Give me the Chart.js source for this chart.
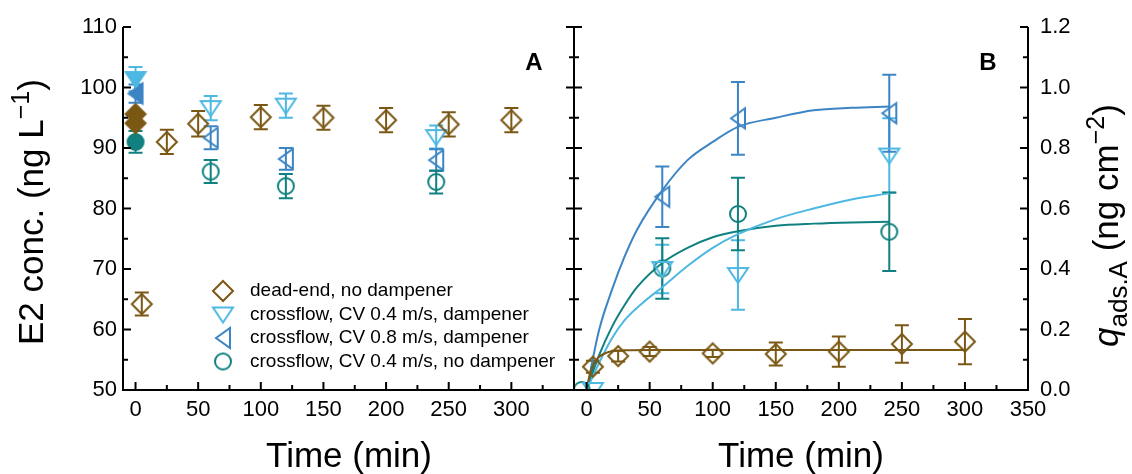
<!DOCTYPE html>
<html>
<head>
<meta charset="utf-8">
<script src="https://cdn.jsdelivr.net/npm/chart.js@4.4.1/dist/chart.umd.min.js"></script>
<style>
  body { margin: 0; background: #fff; }
  #wrap { position: relative; width: 1132px; height: 474px; overflow: hidden; }
  #chartA { position: absolute; left: 0; top: 0; }
  #chartB { position: absolute; left: 560px; top: 0; }
</style>
</head>
<body>
<div id="wrap">
  <canvas id="chartA" width="590" height="474"></canvas>
  <canvas id="chartB" width="572" height="474"></canvas>
</div>
<script>
// ---- Panel A: E2 concentration (ng/L) vs time (min) ----
const deadTimeA = [5, 25, 50, 100, 150, 200, 250, 300];
const deadConcA = [64.2, 91.0, 94.0, 95.1, 95.0, 94.6, 93.9, 94.6];
const deadErrA = [1.9, 2.0, 2.1, 2.0, 2.0, 2.0, 2.0, 2.0];

const cv04dTimeA = [60, 120, 240];
const cv04dConcA = [96.6, 97.0, 91.8];
const cv04dErrA = [2.0, 2.0, 1.9];

const cv08dTimeA = [60, 120, 240];
const cv08dConcA = [91.7, 88.2, 88.0];
const cv08dErrA = [1.9, 1.8, 1.8];

const cv04nTimeA = [60, 120, 240];
const cv04nConcA = [86.1, 83.7, 84.4];
const cv04nErrA = [1.9, 2.0, 1.9];

// feed samples at t = 0 (filled symbols)
const feedDeadA = [95.6, 94.1];
const feedCv04dA = [101.4];
const feedCv08dA = [99.0];
const feedCv04nA = [91.0];
const feedErrA = [2.0, 1.5, 1.8];

// ---- Panel B: adsorbed amount q_ads,A (ng/cm2) vs time (min) ----
const deadTimeB = [5, 25, 50, 100, 150, 200, 250, 300];
const deadQB = [0.077, 0.112, 0.127, 0.121, 0.119, 0.127, 0.152, 0.160];
const deadErrB = [0.02, 0.018, 0.015, 0.012, 0.038, 0.05, 0.062, 0.075];

const cv04dTimeB = [5, 60, 120, 240];
const cv04dQB = [0, 0.40, 0.38, 0.775];
const cv04dErrB = [0, 0.08, 0.115, 0.123];

const cv08dTimeB = [60, 120, 240];
const cv08dQB = [0.639, 0.898, 0.915];
const cv08dErrB = [0.10, 0.12, 0.127];

const cv04nTimeB = [-4, 60, 120, 240];
const cv04nQB = [0, 0.402, 0.582, 0.523];
const cv04nErrB = [0, 0.10, 0.12, 0.13];

// fitted curves
const deadFitT = [0, 2, 4, 7, 10, 15, 20, 30, 50, 100, 200, 300];
const deadFitQ = [0, 0.04, 0.07, 0.095, 0.11, 0.122, 0.128, 0.131, 0.132, 0.132, 0.132, 0.132];
const cv04dFitT = [0, 10, 20, 30, 45, 60, 80, 100, 120, 150, 180, 210, 240];
const cv04dFitQ = [0, 0.09, 0.17, 0.23, 0.29, 0.34, 0.41, 0.47, 0.515, 0.565, 0.60, 0.63, 0.65];
const cv08dFitT = [0, 10, 20, 30, 40, 60, 80, 100, 120, 150, 180, 210, 240];
const cv08dFitQ = [0, 0.20, 0.33, 0.44, 0.53, 0.66, 0.76, 0.82, 0.87, 0.90, 0.925, 0.933, 0.937];
const cv04nFitT = [0, 10, 20, 30, 40, 60, 80, 100, 120, 150, 180, 210, 240];
const cv04nFitQ = [0, 0.116, 0.208, 0.28, 0.34, 0.42, 0.47, 0.505, 0.525, 0.543, 0.55, 0.554, 0.556];

// axis ticks
const xMajor = [0, 50, 100, 150, 200, 250, 300, 350];
const xMinor = [25, 75, 125, 175, 225, 275, 325];
const xLabelsA = [0, 50, 100, 150, 200, 250, 300];
const xLabelsB = [0, 50, 100, 150, 200, 250, 300, 350];
const yMajorA = [50, 60, 70, 80, 90, 100, 110];
const yMinorA = [55, 65, 75, 85, 95, 105];
const yMajorB = [0, 0.2, 0.4, 0.6, 0.8, 1.0, 1.2];
const yMinorB = [0.1, 0.3, 0.5, 0.7, 0.9, 1.1];

const legendLabels = ['dead-end, no dampener', 'crossflow, CV 0.4 m/s, dampener',
  'crossflow, CV 0.8 m/s, dampener', 'crossflow, CV 0.4 m/s, no dampener'];

const BROWN = '#7a5814';
const LIGHT = '#4db8e2';
const MID = '#3c85c4';
const TEAL = '#108080';
const FONT = '"Liberation Sans", Arial, sans-serif';

// symbol images
function marker(shape, color, filled) {
  const c = document.createElement('canvas');
  c.width = 28; c.height = 28;
  const g = c.getContext('2d');
  g.lineWidth = 2; g.strokeStyle = color; g.fillStyle = color;
  g.beginPath();
  if (shape === 'diamond') { g.moveTo(14, 4); g.lineTo(24, 14); g.lineTo(14, 24); g.lineTo(4, 14); g.closePath(); }
  else if (shape === 'down') { g.moveTo(4, 7); g.lineTo(24, 7); g.lineTo(14, 22); g.closePath(); }
  else if (shape === 'left') { g.moveTo(7, 14); g.lineTo(21, 4); g.lineTo(21, 24); g.closePath(); }
  else { g.arc(14, 14, 8, 0, Math.PI * 2); }
  if (filled) g.fill();
  g.stroke();
  return c;
}
const symOpen = [marker('diamond', BROWN), marker('down', LIGHT), marker('left', MID), marker('circle', TEAL)];
const symFill = [marker('diamond', BROWN, true), marker('down', LIGHT, true), marker('left', MID, true), marker('circle', TEAL, true)];

const pts = (xs, ys) => xs.map((x, i) => ({ x: x, y: ys[i] }));

function pointSet(xs, ys, errs, color, sym, extra) {
  return Object.assign({
    data: pts(xs, ys), errorBars: errs, borderColor: color, backgroundColor: color,
    pointStyle: sym, pointRadius: 10, showLine: false
  }, extra || {});
}
function fitSet(xs, ys, color) {
  return {
    data: pts(xs, ys), borderColor: color, borderWidth: 2, pointRadius: 0,
    showLine: true, cubicInterpolationMode: 'monotone'
  };
}

// error bars with caps
const errorBars = {
  id: 'errorBars',
  beforeDatasetsDraw(chart) {
    const ctx = chart.ctx, xs = chart.scales.x, ys = chart.scales.y;
    ctx.save();
    ctx.lineWidth = 2;
    chart.data.datasets.forEach(ds => {
      if (!ds.errorBars) return;
      ctx.strokeStyle = ds.borderColor;
      ds.data.forEach((p, j) => {
        const e = ds.errorBars[j];
        if (!e) return;
        const x = xs.getPixelForValue(p.x);
        const y1 = ys.getPixelForValue(p.y + e), y2 = ys.getPixelForValue(p.y - e);
        ctx.beginPath();
        ctx.moveTo(x, y1); ctx.lineTo(x, y2);
        ctx.moveTo(x - 7, y1); ctx.lineTo(x + 7, y1);
        ctx.moveTo(x - 7, y2); ctx.lineTo(x + 7, y2);
        ctx.stroke();
      });
    });
    ctx.restore();
  }
};

// open frame (left, right, bottom) with inward ticks
const frame = {
  id: 'frame',
  afterDraw(chart, args, opts) {
    const ctx = chart.ctx, a = chart.chartArea, xs = chart.scales.x, ys = chart.scales.y;
    ctx.save();
    ctx.strokeStyle = '#000';
    ctx.lineWidth = 2;
    ctx.beginPath();
    ctx.moveTo(a.left, a.top); ctx.lineTo(a.left, a.bottom);
    ctx.lineTo(a.right, a.bottom); ctx.lineTo(a.right, a.top);
    ctx.stroke();
    ctx.beginPath();
    const tx = (v, len) => { const x = xs.getPixelForValue(v); ctx.moveTo(x, a.bottom); ctx.lineTo(x, a.bottom - len); };
    const ty = (v, len) => {
      const y = ys.getPixelForValue(v);
      ctx.moveTo(a.left, y); ctx.lineTo(a.left + len, y);
      ctx.moveTo(a.right, y); ctx.lineTo(a.right - len, y);
    };
    opts.xMajor.forEach(v => tx(v, 8));
    opts.xMinor.forEach(v => tx(v, 5));
    opts.yMajor.forEach(v => ty(v, 8));
    opts.yMinor.forEach(v => ty(v, 5));
    ctx.stroke();
    ctx.restore();
  }
};

function richText(ctx, parts, x, y, angle) {
  ctx.save();
  ctx.translate(x, y);
  ctx.rotate(angle);
  ctx.textBaseline = 'alphabetic';
  ctx.textAlign = 'left';
  ctx.fillStyle = '#000';
  let cx = 0;
  parts.forEach(p => {
    ctx.font = (p.italic ? 'italic ' : '') + p.size + 'px ' + FONT;
    ctx.fillText(p.text, cx, p.dy || 0);
    cx += ctx.measureText(p.text).width;
  });
  ctx.restore();
}

function centerText(ctx, text, font, x, y) {
  ctx.save();
  ctx.font = font;
  ctx.fillStyle = '#000';
  ctx.textAlign = 'center';
  ctx.textBaseline = 'alphabetic';
  ctx.fillText(text, x, y);
  ctx.restore();
}

const textA = {
  id: 'textA',
  afterDraw(chart) {
    const ctx = chart.ctx;
    richText(ctx, [
      { text: 'E2 conc. (ng L', size: 35 },
      { text: '\u22121', size: 25, dy: -14 },
      { text: ')', size: 35 }
    ], 43, 345, -Math.PI / 2);
    centerText(ctx, 'Time (min)', '35px ' + FONT, 349, 467);
    centerText(ctx, 'A', 'bold 24px ' + FONT, 534, 70);
    // legend
    const rows = [291, 314.5, 338, 361.5];
    ctx.save();
    ctx.font = '19px ' + FONT;
    ctx.fillStyle = '#000';
    ctx.textBaseline = 'middle';
    legendLabels.forEach((t, i) => {
      ctx.drawImage(symOpen[i], 223 - 14, rows[i] - 14);
      ctx.fillText(t, 250, rows[i]);
    });
    ctx.restore();
  }
};

const textB = {
  id: 'textB',
  afterDraw(chart) {
    const ctx = chart.ctx;
    richText(ctx, [
      { text: 'q', size: 35, italic: true },
      { text: 'ads.A', size: 26, dy: 9 },
      { text: ' (ng cm', size: 35 },
      { text: '\u22122', size: 25, dy: -14 },
      { text: ')', size: 35 }
    ], 1118 - 560, 347, -Math.PI / 2);
    centerText(ctx, 'Time (min)', '35px ' + FONT, 801 - 560, 467);
    centerText(ctx, 'B', 'bold 24px ' + FONT, 988 - 560, 70);
  }
};

const tickFont = { family: FONT, size: 22 };

function xScale(labels) {
  return {
    type: 'linear', min: -10, max: 350,
    grid: { display: false, drawTicks: false }, border: { display: false },
    afterBuildTicks: s => { s.ticks = labels.map(v => ({ value: v })); },
    afterFit: s => { s.height = 84; },
    ticks: { font: tickFont, color: '#000', padding: 7, maxRotation: 0, autoSkip: false }
  };
}

// Panel A
new Chart(document.getElementById('chartA'), {
  type: 'scatter',
  data: {
    datasets: [
      pointSet([0, 0], feedDeadA, [0, 0], BROWN, symFill[0]),
      pointSet([0], feedCv04dA, [feedErrA[0]], LIGHT, symFill[1]),
      pointSet([0], feedCv08dA, [feedErrA[1]], MID, symFill[2]),
      pointSet([0], feedCv04nA, [feedErrA[2]], TEAL, symFill[3]),
      pointSet(deadTimeA, deadConcA, deadErrA, BROWN, symOpen[0]),
      pointSet(cv04dTimeA, cv04dConcA, cv04dErrA, LIGHT, symOpen[1]),
      pointSet(cv08dTimeA, cv08dConcA, cv08dErrA, MID, symOpen[2]),
      pointSet(cv04nTimeA, cv04nConcA, cv04nErrA, TEAL, symOpen[3])
    ]
  },
  options: {
    responsive: false, animation: false, events: [],
    layout: { padding: { top: 27, right: 16, left: 0, bottom: 0 } },
    plugins: {
      legend: { display: false }, tooltip: { enabled: false },
      frame: { xMajor: xMajor, xMinor: xMinor, yMajor: yMajorA, yMinor: yMinorA }
    },
    scales: {
      x: xScale(xLabelsA),
      y: {
        type: 'linear', min: 50, max: 110,
        grid: { display: false, drawTicks: false }, border: { display: false },
        afterBuildTicks: s => { s.ticks = yMajorA.map(v => ({ value: v })); },
        afterFit: s => { s.width = 123; },
        ticks: { font: tickFont, color: '#000', padding: 6 }
      }
    }
  },
  plugins: [errorBars, frame, textA]
});

// Panel B
new Chart(document.getElementById('chartB'), {
  type: 'scatter',
  data: {
    datasets: [
      pointSet(deadTimeB, deadQB, deadErrB, BROWN, symOpen[0]),
      pointSet(cv04dTimeB, cv04dQB, cv04dErrB, LIGHT, symOpen[1], { clip: 0 }),
      pointSet(cv08dTimeB, cv08dQB, cv08dErrB, MID, symOpen[2]),
      pointSet(cv04nTimeB, cv04nQB, cv04nErrB, TEAL, symOpen[3], { clip: 0 }),
      fitSet(deadFitT, deadFitQ, BROWN),
      fitSet(cv04dFitT, cv04dFitQ, LIGHT),
      fitSet(cv08dFitT, cv08dFitQ, MID),
      fitSet(cv04nFitT, cv04nFitQ, TEAL)
    ]
  },
  options: {
    responsive: false, animation: false, events: [],
    layout: { padding: { top: 27, right: 0, left: 14, bottom: 0 } },
    plugins: {
      legend: { display: false }, tooltip: { enabled: false },
      frame: { xMajor: xMajor, xMinor: xMinor, yMajor: yMajorB, yMinor: yMinorB }
    },
    scales: {
      x: xScale(xLabelsB),
      y: {
        type: 'linear', position: 'right', min: 0, max: 1.2,
        grid: { display: false, drawTicks: false }, border: { display: false },
        afterBuildTicks: s => { s.ticks = yMajorB.map(v => ({ value: v })); },
        afterFit: s => { s.width = 104; },
        ticks: { font: tickFont, color: '#000', padding: 12, callback: v => v.toFixed(1) }
      }
    }
  },
  plugins: [errorBars, frame, textB]
});
</script>
</body>
</html>
